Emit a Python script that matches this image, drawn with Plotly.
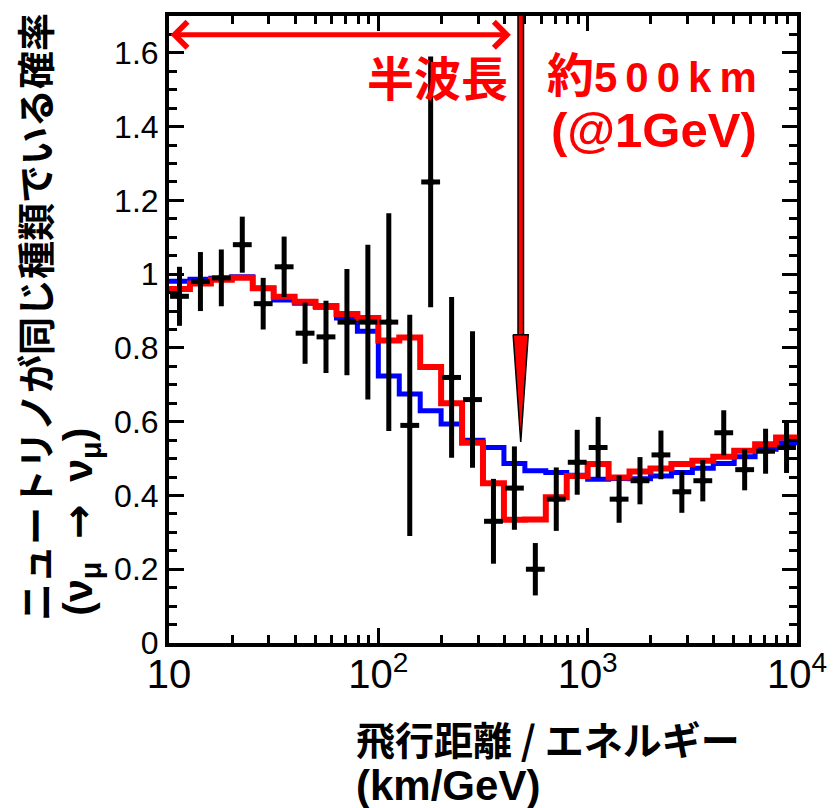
import plotly.graph_objects as go

# ---------------- data ----------------
# bin edges (L/E in km/GeV), 0.1-decade bins
bin_edges = [10, 12.59, 15.85, 19.95, 25.12, 31.62, 39.81, 50.12, 63.10, 79.43,
             100, 125.9, 158.5, 199.5, 251.2, 316.2, 398.1, 501.2, 631.0, 794.3,
             1000, 1259, 1585, 1995, 2512, 3162, 3981, 5012, 6310, 7943, 10000]
# bin centres for the data points
bin_centers = [11.22, 14.13, 17.78, 22.39, 28.18, 35.48, 44.67, 56.23, 70.79, 89.13,
               112.2, 141.3, 177.8, 223.9, 281.8, 354.8, 446.7, 562.3, 707.9, 891.3,
               1122, 1413, 1778, 2239, 2818, 3548, 4467, 5623, 7079, 8913]
data_ratio = [0.94, 0.98, 0.99, 1.08, 0.92, 1.02, 0.84, 0.83, 0.87, 0.87,
              0.87, 0.59, 1.25, 0.72, 0.66, 0.33, 0.42, 0.20, 0.39, 0.49,
              0.53, 0.39, 0.44, 0.51, 0.41, 0.44, 0.57, 0.47, 0.52, 0.53]
data_err = [0.080, 0.080, 0.077, 0.076, 0.070, 0.082, 0.083, 0.098, 0.144, 0.210,
            0.295, 0.300, 0.340, 0.218, 0.185, 0.115, 0.113, 0.071, 0.086, 0.088,
            0.083, 0.064, 0.064, 0.066, 0.057, 0.056, 0.061, 0.056, 0.061, 0.069]
# expectation without oscillation (blue) and with oscillation (red)
no_osc = [0.981, 0.986, 0.989, 0.993, 0.962, 0.930, 0.921, 0.910, 0.881, 0.845,
          0.724, 0.675, 0.630, 0.594, 0.550, 0.530, 0.487, 0.467, 0.462, 0.455,
          0.444, 0.446, 0.445, 0.453, 0.462, 0.474, 0.487, 0.505, 0.525, 0.543]
osc = [0.960, 0.975, 0.985, 0.990, 0.962, 0.939, 0.925, 0.914, 0.892, 0.881,
       0.820, 0.828, 0.748, 0.650, 0.543, 0.433, 0.334, 0.335, 0.395, 0.453,
       0.485, 0.449, 0.465, 0.473, 0.485, 0.494, 0.505, 0.521, 0.539, 0.557]

y_tick_vals = [0, 0.2, 0.4, 0.6, 0.8, 1, 1.2, 1.4, 1.6]

# annotation geometry (data units)
half_wave_x = 479          # L/E of the half-wavelength marker
half_wave_head_x = [440.5, 520.0, 479, 440.5]
half_wave_head_y = [0.836, 0.836, 0.545, 0.836]
half_wave_shaft_y = [0.836, 1.70]

BIN_HALF = 0.045  # horizontal bar half width in decades
xplus = [c * (10 ** BIN_HALF - 1) for c in bin_centers]
xminus = [c * (1 - 10 ** -BIN_HALF) for c in bin_centers]

LATIN = "Liberation Sans, Arial, Noto Sans CJK JP, sans-serif"
CJK = "Noto Sans CJK JP, Liberation Sans, sans-serif"

fig = go.Figure()

fig.add_trace(go.Scatter(x=bin_edges, y=no_osc + [no_osc[-1]], mode="lines",
                         line=dict(color="#0000ff", width=5, shape="hv"),
                         showlegend=False, hoverinfo="skip"))
fig.add_trace(go.Scatter(x=bin_edges, y=osc + [osc[-1]], mode="lines",
                         line=dict(color="#ff0000", width=6, shape="hv"),
                         showlegend=False, hoverinfo="skip"))
fig.add_trace(go.Scatter(x=bin_centers, y=data_ratio, mode="markers",
                         marker=dict(color="black", size=7),
                         error_y=dict(type="data", array=data_err, color="black",
                                      thickness=5, width=0),
                         error_x=dict(type="data", symmetric=False, array=xplus,
                                      arrayminus=xminus, color="black",
                                      thickness=5, width=0),
                         showlegend=False))

# vertical half-wavelength arrow
fig.add_trace(go.Scatter(x=[half_wave_x, half_wave_x], y=half_wave_shaft_y, mode="lines",
                         line=dict(color="black", width=7), showlegend=False,
                         hoverinfo="skip"))
fig.add_trace(go.Scatter(x=[half_wave_x, half_wave_x], y=half_wave_shaft_y, mode="lines",
                         line=dict(color="#ff0000", width=4), showlegend=False,
                         hoverinfo="skip"))
fig.add_trace(go.Scatter(x=half_wave_head_x, y=half_wave_head_y, mode="lines",
                         fill="toself", fillcolor="#ff0000",
                         line=dict(color="black", width=1.5), showlegend=False,
                         hoverinfo="skip"))

L, R, T, B = 169, 38, 13, 165
W, H = 839, 808
pw, ph = W - L - R, H - T - B


def px(xp):
    return (xp - L) / pw


def py(yp):
    return (H - B - yp) / ph


ARROW = "<span style=\"font-family:'DejaVu Sans'\">→</span>"
NB = "\u00a0"

km_text = ("約<span style=\"font-size:42px;letter-spacing:8px\">500km</span>")

annotations = [
    # horizontal double arrow
    dict(x=2.633, y=1.649, ax=1.0, ay=1.649, xref="x", yref="y", axref="x", ayref="y",
         text="", showarrow=True, arrowhead=4, startarrowhead=4, arrowside="end+start",
         arrowwidth=5, arrowsize=1, startarrowsize=1, arrowcolor="#ff0000"),
    dict(x=px(512), y=py(73), xref="paper", yref="paper", xanchor="right", yanchor="middle",
         text="半波長", showarrow=False,
         font=dict(family=CJK, size=47, color="#ff0000", weight="bold")),
    dict(x=px(547), y=py(73), xref="paper", yref="paper", xanchor="left", yanchor="middle",
         text=km_text, showarrow=False,
         font=dict(family=LATIN, size=47, color="#ff0000", weight="bold")),
    dict(x=px(657), y=py(128), xref="paper", yref="paper", xanchor="center", yanchor="middle",
         text="(@1GeV)", showarrow=False,
         font=dict(family=LATIN, size=49, color="#ff0000", weight="bold")),
    # y title
    dict(x=px(32), y=py(623), xref="paper", yref="paper", xanchor="center", yanchor="bottom",
         text="ニュートリノが同じ種類でいる確率", textangle=-90, showarrow=False,
         font=dict(family=CJK, size=38, color="black", weight="bold")),
    dict(x=px(80), y=py(618), xref="paper", yref="paper", xanchor="center", yanchor="bottom",
         text="(ν<sub>μ</sub>" + NB + " " + ARROW + " " + NB + "ν<sub>μ</sub>)",
         textangle=-90, showarrow=False,
         font=dict(family=LATIN, size=41, color="black", weight="bold")),
    # x title
    dict(x=px(355), y=py(738), xref="paper", yref="paper", xanchor="left", yanchor="middle",
         text="飛行距離 / エネルギー", showarrow=False,
         font=dict(family=CJK, size=39, color="black", weight="bold")),
    dict(x=px(355), y=py(786), xref="paper", yref="paper", xanchor="left", yanchor="middle",
         text="(km/GeV)", showarrow=False,
         font=dict(family=LATIN, size=42, color="black", weight="bold")),
]

fig.update_layout(
    width=W, height=H, autosize=False,
    margin=dict(l=L, r=R, t=T, b=B, pad=0),
    paper_bgcolor="white", plot_bgcolor="white",
    font=dict(family=LATIN, color="black"),
    annotations=annotations,
    showlegend=False,
)
fig.update_xaxes(type="log", range=[1, 4], dtick=1, exponentformat="power",
                 showline=True, linecolor="black", linewidth=4, mirror="ticks",
                 ticks="inside", ticklen=15, tickwidth=3, tickcolor="black",
                 showgrid=False, zeroline=False, ticklabelstandoff=-5,
                 tickfont=dict(family=LATIN, size=32, color="black"),
                 minor=dict(ticks="inside", ticklen=8, tickwidth=3, tickcolor="black",
                            dtick="D1", showgrid=False))
fig.update_yaxes(range=[0, 1.7], tickvals=y_tick_vals,
                 showline=True, linecolor="black", linewidth=4, mirror="ticks",
                 ticks="inside", ticklen=15, tickwidth=3, tickcolor="black",
                 showgrid=False, zeroline=False, ticklabelstandoff=0,
                 tickfont=dict(family=LATIN, size=32, color="black"),
                 minor=dict(ticks="inside", ticklen=8, tickwidth=3, tickcolor="black",
                            dtick=0.05, tick0=0, showgrid=False))

fig.write_html("out.html",
               config={"displayModeBar": False},
               post_script="document.body.style.margin='0';document.body.style.padding='0';"
                           "document.documentElement.style.overflow='hidden';")
